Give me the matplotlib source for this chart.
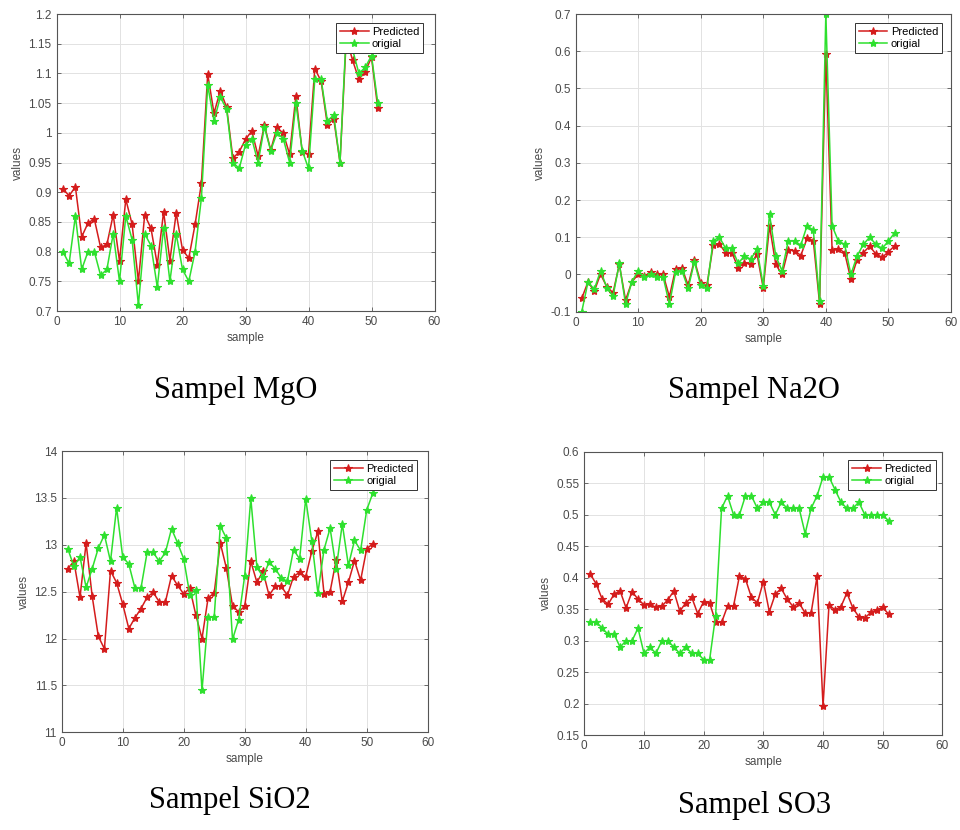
import matplotlib.pyplot as plt
from matplotlib import font_manager

samples = list(range(1, 52))

mgo_pred = [0.906, 0.894, 0.909, 0.825, 0.848, 0.855, 0.807, 0.812, 0.862, 0.784,
            0.888, 0.846, 0.750, 0.862, 0.839, 0.778, 0.867, 0.785, 0.865, 0.803,
            0.789, 0.846, 0.915, 1.099, 1.033, 1.071, 1.043, 0.957, 0.968, 0.989,
            1.003, 0.961, 1.013, 0.971, 1.009, 0.999, 0.964, 1.062, 0.968, 0.964,
            1.108, 1.087, 1.013, 1.024, 0.950, 1.160, 1.122, 1.090, 1.103, 1.127, 1.041]
mgo_orig = [0.80, 0.78, 0.86, 0.77, 0.80, 0.80, 0.76, 0.77, 0.83, 0.75,
            0.86, 0.82, 0.71, 0.83, 0.81, 0.74, 0.84, 0.75, 0.83, 0.77,
            0.75, 0.80, 0.89, 1.08, 1.02, 1.06, 1.04, 0.95, 0.94, 0.98,
            0.99, 0.95, 1.01, 0.97, 1.00, 0.99, 0.95, 1.05, 0.97, 0.94,
            1.09, 1.09, 1.02, 1.03, 0.95, 1.17, 1.14, 1.10, 1.11, 1.13, 1.05]

na2o_pred = [-0.064, -0.020, -0.045, 0.001, -0.033, -0.049, 0.027, -0.069, -0.020, 0.000,
             -0.005, 0.007, 0.000, 0.000, -0.060, 0.016, 0.018, -0.029, 0.039, -0.022,
             -0.029, 0.079, 0.082, 0.058, 0.058, 0.018, 0.032, 0.027, 0.055, -0.037,
             0.131, 0.027, 0.000, 0.067, 0.064, 0.051, 0.097, 0.091, -0.078, 0.592,
             0.066, 0.069, 0.059, -0.013, 0.040, 0.059, 0.076, 0.055, 0.046, 0.061, 0.077]
na2o_orig = [-0.100, -0.020, -0.040, 0.010, -0.035, -0.058, 0.030, -0.080, -0.020, 0.010,
             -0.008, 0.000, -0.006, -0.006, -0.080, 0.007, 0.010, -0.037, 0.034, -0.029,
             -0.037, 0.091, 0.100, 0.070, 0.070, 0.030, 0.050, 0.041, 0.068, -0.030,
             0.162, 0.050, 0.010, 0.091, 0.090, 0.079, 0.131, 0.119, -0.070, 0.700,
             0.131, 0.090, 0.081, 0.000, 0.050, 0.081, 0.100, 0.081, 0.070, 0.090, 0.112]

sio2_pred = [12.745, 12.823, 12.44, 13.018, 12.45, 12.025, 11.89, 12.723, 12.596, 12.369,
             12.106, 12.22, 12.319, 12.44, 12.493, 12.39, 12.39, 12.67, 12.567, 12.475,
             12.539, 12.248, 12.0, 12.433, 12.486, 13.018, 12.75, 12.35, 12.284, 12.344,
             12.823, 12.6, 12.716, 12.46, 12.557, 12.557, 12.46, 12.66, 12.706, 12.66,
             12.93, 13.142, 12.479, 12.5, 12.84, 12.397, 12.6, 12.83, 12.62, 12.957, 13.01]
sio2_orig = [12.957, 12.77, 12.87, 12.546, 12.745, 12.964, 13.106, 12.823, 13.397, 12.87,
             12.794, 12.539, 12.539, 12.918, 12.918, 12.823, 12.918, 13.17, 13.02, 12.85,
             12.468, 12.52, 11.447, 12.23, 12.23, 13.2, 13.07, 11.99, 12.2, 12.67,
             13.496, 12.76, 12.66, 12.816, 12.745, 12.645, 12.61, 12.947, 12.85, 13.49,
             13.04, 12.486, 12.947, 13.177, 12.745, 13.223, 12.78, 13.046, 12.94, 13.37, 13.55]

so3_pred = [0.406, 0.390, 0.366, 0.358, 0.374, 0.379, 0.352, 0.378, 0.366, 0.357,
            0.358, 0.353, 0.355, 0.365, 0.379, 0.347, 0.360, 0.369, 0.343, 0.362,
            0.360, 0.330, 0.329, 0.355, 0.355, 0.403, 0.398, 0.369, 0.360, 0.394,
            0.346, 0.374, 0.383, 0.366, 0.354, 0.360, 0.344, 0.344, 0.402, 0.196,
            0.357, 0.349, 0.354, 0.376, 0.352, 0.338, 0.336, 0.345, 0.349, 0.353, 0.342]
so3_orig = [0.33, 0.33, 0.32, 0.31, 0.31, 0.29, 0.30, 0.30, 0.32, 0.28,
            0.29, 0.28, 0.30, 0.30, 0.29, 0.28, 0.29, 0.28, 0.28, 0.27,
            0.27, 0.34, 0.51, 0.53, 0.50, 0.50, 0.53, 0.53, 0.51, 0.52,
            0.52, 0.50, 0.52, 0.51, 0.51, 0.51, 0.47, 0.51, 0.53, 0.56,
            0.56, 0.54, 0.52, 0.51, 0.51, 0.52, 0.50, 0.50, 0.50, 0.50, 0.49]

captions = ["Sampel MgO", "Sampel Na2O", "Sampel SiO2", "Sampel SO3"]

W, H = 960, 830
red = "#d41c1c"
green = "#2ee02e"
text_gray = "#4a4a4a"

installed = {f.name for f in font_manager.fontManager.ttflist}
narrow = "Liberation Sans Narrow" if "Liberation Sans Narrow" in installed else "Liberation Sans"

plt.rcParams["font.family"] = "Liberation Sans"

fig = plt.figure(figsize=(W / 100, H / 100), dpi=100)
fig.patch.set_facecolor("white")


def px_axes(x0, x1, y_top, y_bot):
    return fig.add_axes([x0 / W, 1 - y_bot / H, (x1 - x0) / W, (y_bot - y_top) / H])


def draw_panel(ax, pred, orig, ylim, yticks, ylabels, font, leg_anchor):
    ax.plot(samples, pred, "-*", color=red, lw=1.1, ms=6, mew=0.8, label="Predicted")
    ax.plot(samples, orig, "-*", color=green, lw=1.1, ms=6, mew=0.8, label="origial")
    ax.set_xlim(0, 60)
    ax.set_ylim(*ylim)
    ax.set_xticks(range(0, 61, 10))
    ax.set_yticks(yticks)
    ax.set_yticklabels(ylabels)
    ax.grid(True, color="#e2e2e2", lw=0.7)
    ax.set_axisbelow(True)
    for s in ax.spines.values():
        s.set_color("#555555")
        s.set_linewidth(0.8)
    ax.tick_params(direction="in", length=3, width=0.6, colors="#555555",
                   labelcolor=text_gray, labelsize=8.5, top=True, right=True)
    for lab in ax.get_xticklabels() + ax.get_yticklabels():
        lab.set_family(font)
    ax.set_xlabel("sample", fontsize=8.5, color=text_gray, family=font, labelpad=3)
    ax.set_ylabel("values", fontsize=8.5, color=text_gray, family=font, labelpad=3)
    leg = ax.legend(loc="upper right", bbox_to_anchor=leg_anchor, fancybox=False,
                    framealpha=1, edgecolor="#333333", handlelength=2.6, borderpad=0.35,
                    labelspacing=0.2, handletextpad=0.3, borderaxespad=0.0,
                    prop={"family": font, "size": 8})
    leg.get_frame().set_linewidth(0.7)


ax1 = px_axes(56.5, 434.5, 14, 311)
draw_panel(ax1, mgo_pred, mgo_orig, (0.7, 1.2),
           [0.7, 0.75, 0.8, 0.85, 0.9, 0.95, 1.0, 1.05, 1.1, 1.15, 1.2],
           ["0.7", "0.75", "0.8", "0.85", "0.9", "0.95", "1", "1.05", "1.1", "1.15", "1.2"],
           "Liberation Sans", (0.970, 0.970))

ax2 = px_axes(575.5, 951, 14, 311.7)
draw_panel(ax2, na2o_pred, na2o_orig, (-0.1, 0.7),
           [-0.1, 0, 0.1, 0.2, 0.3, 0.4, 0.5, 0.6, 0.7],
           ["-0.1", "0", "0.1", "0.2", "0.3", "0.4", "0.5", "0.6", "0.7"],
           "Liberation Sans", (0.976, 0.970))

ax3 = px_axes(61.7, 427.7, 451, 732.3)
draw_panel(ax3, sio2_pred, sio2_orig, (11, 14),
           [11, 11.5, 12, 12.5, 13, 13.5, 14],
           ["11", "11.5", "12", "12.5", "13", "13.5", "14"], narrow, (0.972, 0.968))

ax4 = px_axes(584.3, 942.4, 451.7, 735.3)
draw_panel(ax4, so3_pred, so3_orig, (0.15, 0.6),
           [0.15, 0.2, 0.25, 0.3, 0.35, 0.4, 0.45, 0.5, 0.55, 0.6],
           ["0.15", "0.2", "0.25", "0.3", "0.35", "0.4", "0.45", "0.5", "0.55", "0.6"],
           narrow, (0.981, 0.971))

# captions under each panel
cap_pos = [(236, 390), (754, 390), (230, 800), (755, 805)]
for (cx, cy), txt in zip(cap_pos, captions):
    fig.text(cx / W, 1 - cy / H, txt, ha="center", va="center",
             fontsize=22, family="Liberation Serif", color="black")

fig.savefig("out.png", dpi=100, facecolor="white")
